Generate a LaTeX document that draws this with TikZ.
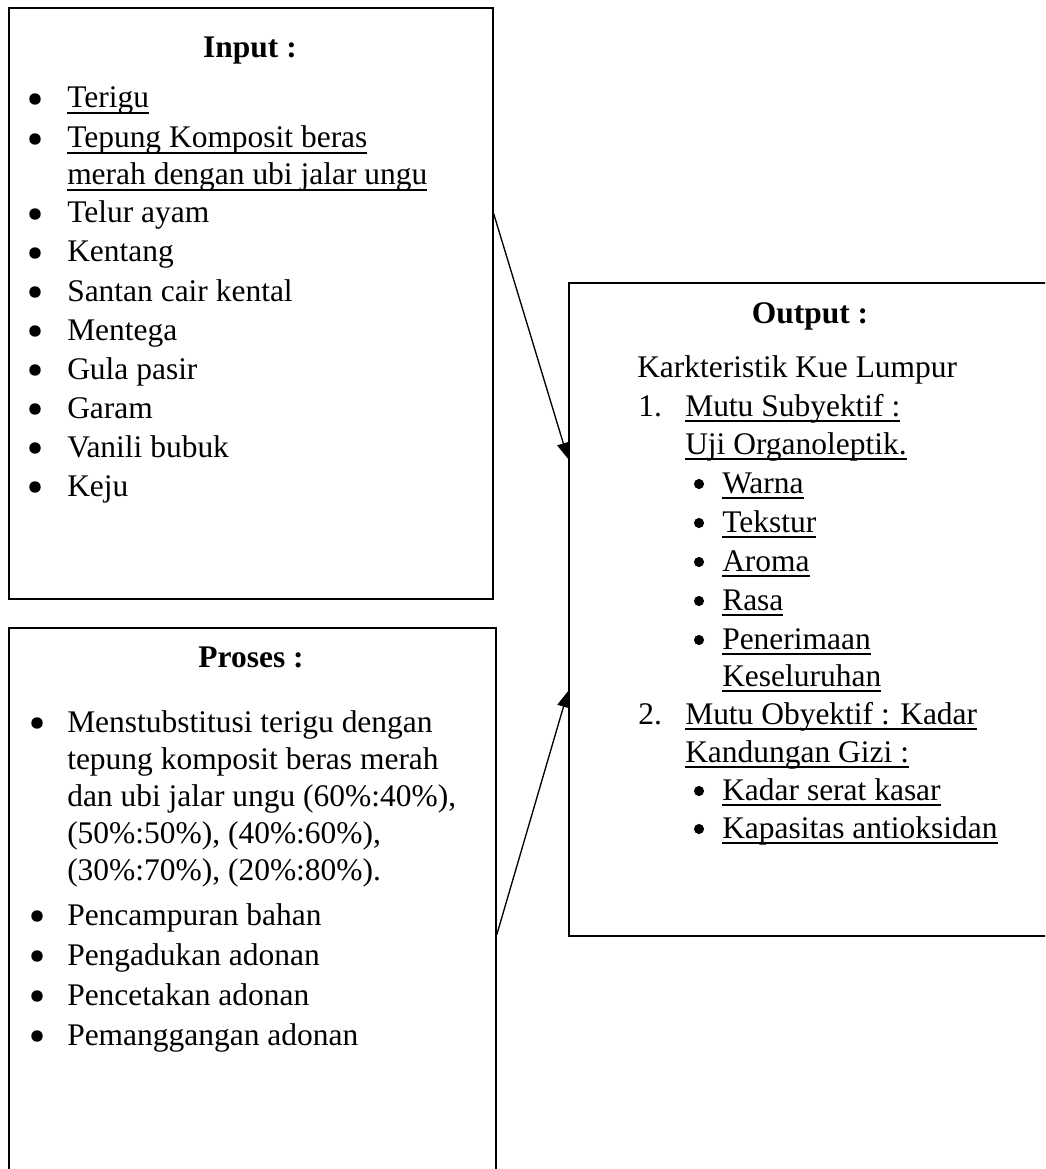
\documentclass[tikz,border=0pt]{standalone}
\usepackage{fontspec}
\setmainfont{Liberation Serif}
\usepackage{tikz}
\usetikzlibrary{calc,arrows.meta}

% garis bawah dengan kedalaman tetap
\newcommand{\undl}[1]{\setbox0=\hbox{#1}\rlap{\rule[-4.2pt]{\wd0}{1.4pt}}\box0}

\begin{document}
\begin{tikzpicture}[
	x=0.75pt, y=-0.75pt,
	font=\fontsize{23.6}{28}\selectfont,
	% Style untuk kotak
	panel/.style={draw=black, line width=1.3pt, anchor=north west, inner sep=0pt},
	% Style untuk judul kotak
	judul/.style={anchor=base, inner sep=0pt, font=\fontsize{23.6}{28}\selectfont\bfseries},
	% Style untuk baris teks
	baris/.style={anchor=base west, inner sep=0pt},
	% Style untuk tanda butir
	butir/.style={circle, fill=black, inner sep=0pt, minimum size=8.6pt},
	butirkecil/.style={circle, fill=black, inner sep=0pt, minimum size=7.6pt},
	% Style untuk panah
	panah/.style={-{Triangle[length=12pt,width=9.5pt]}, black, line width=1pt}
	]
	\clip (0,0) rectangle (1045,1169);
	
	% --- KOTAK ---
	\node[panel, minimum width=484*0.75pt, minimum height=591*0.75pt] (inbox) at (8,7) {};
	\node[panel, minimum width=487*0.75pt, minimum height=560*0.75pt] (probox) at (8,627) {};
	\node[panel, minimum width=500*0.75pt, minimum height=653*0.75pt] (outbox) at (568,282) {};
	
	% --- INPUT ---
	\node[judul] (injudul) at (250,58) {Input :};
	\node[butir] (inb-a) at (35,99) {};
	\node[baris] (in-a) at (67,108) {\undl{Terigu}};
	\node[butir] (inb-b) at (35,139) {};
	\node[baris] (in-b1) at (67,148) {\undl{Tepung Komposit beras}};
	\node[baris] (in-b2) at (67,185) {\undl{merah dengan ubi jalar ungu}};
	\foreach \teks [count=\i] in {Telur ayam, Kentang, Santan cair kental, Mentega, Gula pasir, Garam, Vanili bubuk, Keju} {
		\node[butir] (inb-\i) at (35,{214+(\i-1)*39}) {};
		\node[baris] (in-\i) at (67,{223+(\i-1)*39}) {\teks};
	}
	
	% --- PROSES ---
	\node[judul] (projudul) at (251,667) {Proses :};
	\node[butir] (prob-a) at (37,723) {};
	\node[baris] (pro-a1) at (67,732) {Menstubstitusi terigu dengan};
	\node[baris] (pro-a2) at (67,769) {tepung komposit beras merah};
	\node[baris] (pro-a3) at (67,806) {dan ubi jalar ungu (60\%:40\%),};
	\node[baris] (pro-a4) at (67,843) {(50\%:50\%), (40\%:60\%),};
	\node[baris] (pro-a5) at (67,880) {(30\%:70\%), (20\%:80\%).};
	\foreach \teks [count=\i] in {Pencampuran bahan, Pengadukan adonan, Pencetakan adonan, Pemanggangan adonan} {
		\node[butir] (prob-\i) at (37,{916+(\i-1)*40}) {};
		\node[baris] (pro-\i) at (67,{925+(\i-1)*40}) {\teks};
	}
	
	% --- OUTPUT ---
	\node[judul] (outjudul) at (810,323) {Output :};
	\node[baris] (out-k) at (637,377) {Karkteristik Kue Lumpur};
	\node[baris] (out-n1) at (638,416) {1.};
	\node[baris] (out-s1) at (685,416) {\undl{Mutu Subyektif :}};
	\node[baris] (out-s2) at (685,454) {\undl{Uji Organoleptik.}};
	\foreach \teks [count=\i] in {Warna, Tekstur, Aroma, Rasa, Penerimaan} {
		\node[butirkecil] (outb-\i) at (699,{484+(\i-1)*39}) {};
		\node[baris] (out-\i) at (722,{493+(\i-1)*39}) {\undl{\teks}};
	}
	\node[baris] (out-5b) at (722,686) {\undl{Keseluruhan}};
	\node[baris] (out-n2) at (638,724) {2.};
	\node[baris] (out-o1) at (685,724) {\undl{Mutu Obyektif : Kadar}};
	\node[baris] (out-o2) at (685,762) {\undl{Kandungan Gizi :}};
	\node[butirkecil] (outb-g1) at (699,791) {};
	\node[baris] (out-g1) at (722,800) {\undl{Kadar serat kasar}};
	\node[butirkecil] (outb-g2) at (699,829) {};
	\node[baris] (out-g2) at (722,838) {\undl{Kapasitas antioksidan}};
	
	% --- PANAH ---
	\draw[panah] ($(inbox.north east)!0.349!(inbox.south east)$) -- ($(outbox.north west)!0.27!(outbox.south west)$);
	\draw[panah] ($(probox.north east)!0.548!(probox.south east)$) -- ($(outbox.north west)!0.625!(outbox.south west)$);
	
\end{tikzpicture}
\end{document}
